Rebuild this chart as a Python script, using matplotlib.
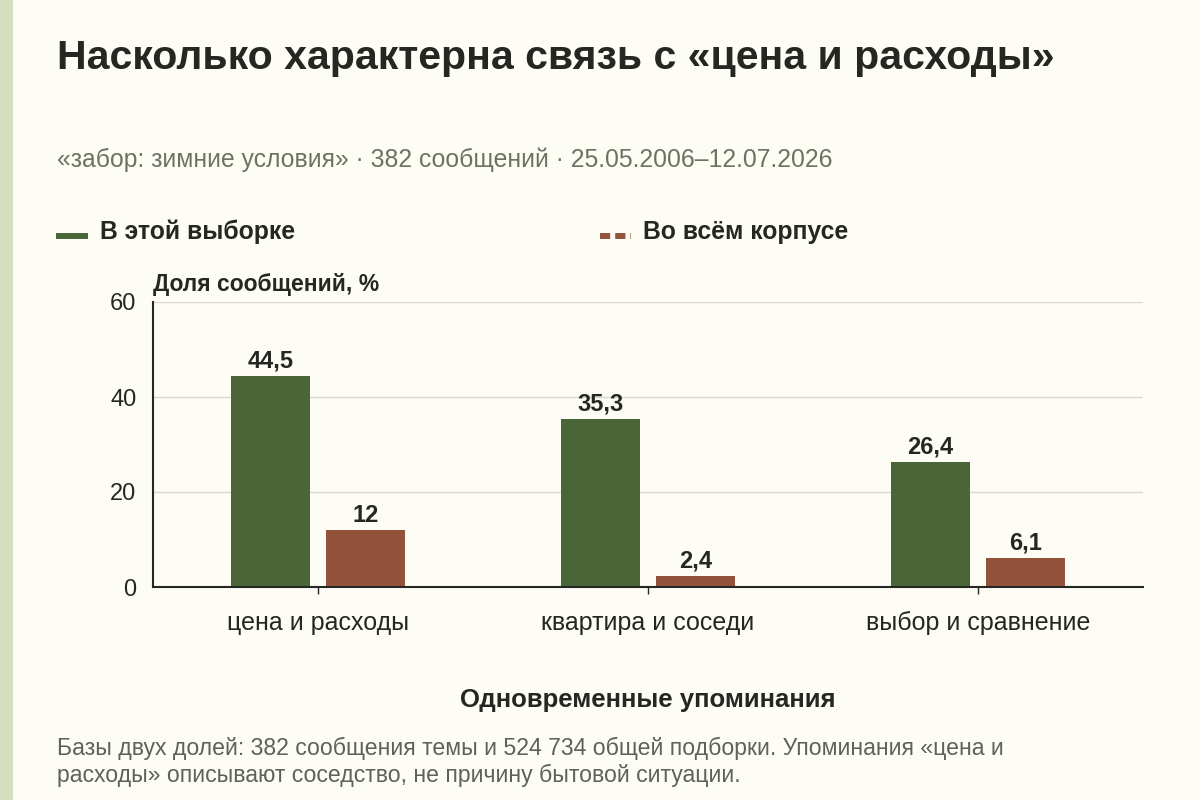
import numpy as np
import matplotlib
matplotlib.use('Agg')
import matplotlib.pyplot as plt
from matplotlib.lines import Line2D
from matplotlib.patches import Rectangle

plt.rcParams['font.family'] = ['Liberation Sans', 'DejaVu Sans']

# data
categories = ['цена и расходы', 'квартира и соседи', 'выбор и сравнение']
sample_share = [44.5, 35.3, 26.4]
corpus_share = [12, 2.4, 6.1]
y_ticks = [0, 20, 40, 60]

title = 'Насколько характерна связь с «цена и расходы»'
subtitle = '«забор: зимние условия» · 382 сообщений · 25.05.2006–12.07.2026'
note_lines = ['Базы двух долей: 382 сообщения темы и 524 734 общей подборки. Упоминания «цена и',
              'расходы» описывают соседство, не причину бытовой ситуации.']

bg = '#fdfcf5'
green = '#4a6639'
brown = '#93533a'
dark = '#262622'

fig = plt.figure(figsize=(12, 8), dpi=100, facecolor=bg)
fig.patches.append(Rectangle((0, 0), 13 / 1200, 1, transform=fig.transFigure,
                             facecolor='#d4dfc0', edgecolor='none'))

ax = fig.add_axes([153 / 1200, 1 - 587 / 800, 990 / 1200, 285 / 800])
ax.set_facecolor(bg)

x = np.arange(len(categories))
w = 0.24
off = 0.144
b1 = ax.bar(x - off, sample_share, w, color=green)
b2 = ax.bar(x + off, corpus_share, w, color=brown)

def fmt(v):
    return ('%g' % v).replace('.', ',')

# value labels above bars
for bars, vals in ((b1, sample_share), (b2, corpus_share)):
    for r, v in zip(bars, vals):
        ax.annotate(fmt(v), (r.get_x() + r.get_width() / 2, v), xytext=(0, 2.5),
                    textcoords='offset points', ha='center', va='bottom',
                    fontsize=17, fontweight='bold', color=dark)

ax.set_xlim(-0.5, 2.5)
ax.set_ylim(0, 60)
ax.set_yticks(y_ticks)
ax.set_yticklabels([str(t) for t in y_ticks], fontsize=17, color=dark)
ax.set_xticks(x)
ax.set_xticklabels(categories, fontsize=18, color=dark)
ax.tick_params(axis='y', length=0, pad=12)
ax.tick_params(axis='x', length=5, width=1, color=dark, pad=12)
ax.grid(axis='y', color='#d8d8d0', linewidth=1)
ax.set_axisbelow(True)
for s in ('top', 'right'):
    ax.spines[s].set_visible(False)
for s in ('left', 'bottom'):
    ax.spines[s].set_color(dark)
    ax.spines[s].set_linewidth(1.5)

fig.text(648 / 1200, 1 - 700 / 800, 'Одновременные упоминания', fontsize=18.5,
         fontweight='bold', color=dark, va='center', ha='center')

fig.text(153 / 1200, 1 - 284 / 800, 'Доля сообщений, %', fontsize=16.5,
         fontweight='bold', color=dark, va='center', ha='left')

fig.text(57 / 1200, 1 - 58 / 800, title, fontsize=29.5, fontweight='bold',
         color=dark, va='center', ha='left')
fig.text(57 / 1200, 1 - 160 / 800, subtitle, fontsize=17.8, color='#6b7461',
         va='center', ha='left')

# legend
fig.add_artist(Line2D([56 / 1200, 88 / 1200], [1 - 236 / 800] * 2, color=green,
                      linewidth=4.3, solid_capstyle='butt',
                      transform=fig.transFigure))
fig.text(100 / 1200, 1 - 232 / 800, 'В этой выборке', fontsize=17.8,
         fontweight='bold', color=dark, va='center', ha='left')
fig.add_artist(Line2D([600 / 1200, 631 / 1200], [1 - 236 / 800] * 2, color=brown,
                      linewidth=4.3, linestyle=(0, (1.7, 0.85)), dash_capstyle='butt',
                      transform=fig.transFigure))
fig.text(643 / 1200, 1 - 232 / 800, 'Во всём корпусе', fontsize=17.8,
         fontweight='bold', color=dark, va='center', ha='left')

for i, line in enumerate(note_lines):
    fig.text(57 / 1200, 1 - (748 + 27 * i) / 800, line, fontsize=16.6,
             color='#5f6256', va='center', ha='left')

fig.savefig('out.png', dpi=100, facecolor=bg)
